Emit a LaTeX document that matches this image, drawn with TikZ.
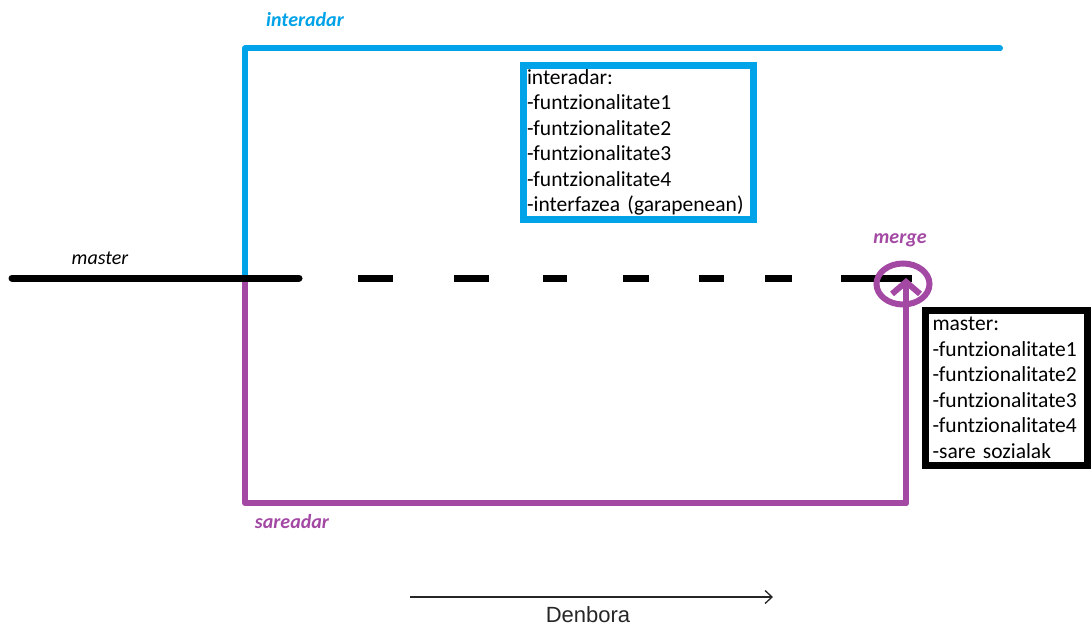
\documentclass[tikz,border=0pt]{standalone}
\usepackage{fontspec}
\setmainfont{Carlito}
\newfontfamily\arialfont{Liberation Sans}
\usetikzlibrary{arrows.meta,shapes.geometric}
\definecolor{pblue}{RGB}{0,162,232}
\definecolor{ppurple}{RGB}{163,73,164}
\newcommand\myboxfont{\fontsize{21.5}{25.5}\selectfont\spaceskip=5.2pt\relax}
\begin{document}
\begin{tikzpicture}[x=1pt,y=-1pt,
  branch/.style={line width=6pt, line cap=round, line join=round},
  masterline/.style={line width=7pt, black},
  infobox/.style={draw, line width=7pt, align=left, text width=#1,
    font=\myboxfont, inner ysep=0pt, anchor=center},
  blabel/.style={font=\fontsize{20}{24}\selectfont\bfseries\itshape},
  barb/.style={-{Straight Barb[length=12pt,width=28pt]}}
]
\useasboundingbox (0,0) rectangle (1091,631);
% coordinates
\coordinate (mstart) at (12,278);
\coordinate (split) at (245,278);
\coordinate (solidend) at (299,278);
\coordinate (mend) at (912,278);
\coordinate (itop) at (245,48.5);
\coordinate (iend) at (1000,48.5);
\coordinate (sbl) at (245,503);
\coordinate (sbr) at (906,503);
\coordinate (stip) at (906,278);
\coordinate (tstart) at (410,597);
\coordinate (tend) at (773,597);
% branches
\draw[branch, pblue] (split) -- (itop) -- (iend);
\draw[branch, ppurple] (split) -- (sbl) -- (sbr);
% master
\draw[masterline, line cap=round] (mstart) -- (solidend);
\draw[masterline, dash pattern=on 0pt off 59pt on 35pt off 61pt on 35pt off 54pt on 24pt off 56pt on 26pt off 50pt on 25pt off 41pt on 27pt off 49pt on 71pt off 20pt] (solidend) -- (mend);
% merge
\draw[branch, ppurple, barb] (sbr) -- (stip);
\node[draw=ppurple, line width=6pt, ellipse, minimum width=53pt, minimum height=41pt, inner sep=0pt] (mergec) at (903,284) {};
% boxes
\node[infobox=223pt, draw=pblue, inner xsep=3.5pt, minimum width=230pt, minimum height=154pt] (ibox) at (638.5,142.5)
  {interadar:\\-funtzionalitate1\\-funtzionalitate2\\-funtzionalitate3\\-funtzionalitate4\\-interfazea (garapenean)};
\node[infobox=148pt, draw=black, inner xsep=7pt, minimum width=162pt, minimum height=155pt] (mbox) at (1006.5,388)
  {master:\\-funtzionalitate1\\-funtzionalitate2\\-funtzionalitate3\\-funtzionalitate4\\-sare sozialak};
% labels
\node[blabel, text=pblue] (lint) at (305,20) {interadar};
\node[font=\fontsize{20}{24}\selectfont\itshape] (lmaster) at (100,258) {master};
\node[blabel, text=ppurple] (lmerge) at (900,240) {merge};
\node[blabel, text=ppurple] (lsare) at (292,522) {sareadar};
% time
\draw[line width=1.3pt, black!85, -{Straight Barb[length=7pt,width=13pt]}] (tstart) -- (tend);
\node[font=\arialfont\fontsize{22}{26}\selectfont, text=black!85] (lden) at (588,615) {Denbora};
\end{tikzpicture}
\end{document}
